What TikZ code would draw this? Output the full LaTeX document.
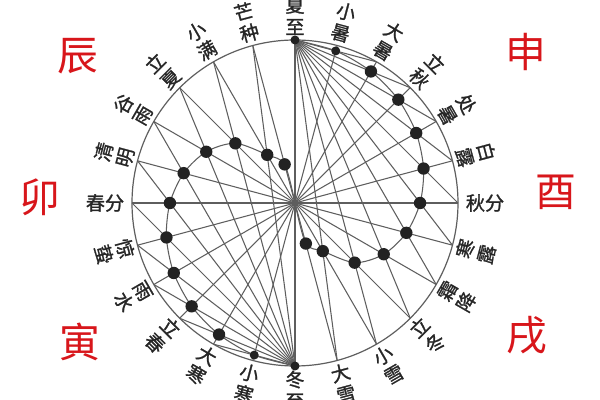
\documentclass[tikz,border=0pt]{standalone}
\usepackage{fontspec}
\newfontfamily\cjk[FakeBold=1.2]{Noto Sans CJK SC}
\newfontfamily\cjkred{Noto Sans CJK SC}
\definecolor{lngray}{HTML}{5E5E5E}
\definecolor{dotc}{HTML}{222222}
\definecolor{redc}{HTML}{D8161B}
\begin{document}
\begin{tikzpicture}[x=0.025cm,y=0.025cm,
  ln/.style={draw=lngray, line width=0.75pt},
  circline/.style={draw=lngray, line width=0.85pt},
  bigdot/.style={circle, fill=dotc, inner sep=0pt, minimum size=8.8pt},
  smalldot/.style={circle, fill=dotc, inner sep=0pt, minimum size=6.4pt},
  lbl/.style={font=\cjk\fontsize{13.6}{15.5}\selectfont, inner sep=0pt, align=center, text=black!85},
  zhi/.style={font=\cjkred\fontsize{29}{31}\selectfont, inner sep=0pt, text=redc}]
\def\R{163}
\useasboundingbox (-295,-197) rectangle (305,203);
\fill[white] (-295,-197) rectangle (305,203);
\coordinate (O) at (0,0);
\foreach \i in {0,...,23} {
  \pgfmathsetmacro\ang{90-15*\i}
  \coordinate (P\i) at (\ang:\R);
}
% dot positions
\foreach \i in {1,...,10} {
  \pgfmathsetmacro\th{90-15*\i}
  \pgfmathsetmacro\rr{\R*sin(37.5+\th/2)/sin(52.5+\th/2)}
  \pgfmathtruncatemacro\j{\i+12}
  \coordinate (D\i) at (\th:\rr);
  \coordinate (D\j) at (\th+180:\rr);
}
\coordinate (D11) at (-75:42);
\coordinate (D23) at (105:40);
% circle
\draw[circline] (O) circle (\R);
% diameters
\foreach \i in {0,...,11} {
  \pgfmathtruncatemacro\j{\i+12}
  \draw[ln] (P\i) -- (P\j);
}
% chords from summer solstice and winter solstice
\foreach \i in {2,...,11} { \draw[ln] (P0) -- (P\i); }
\foreach \i in {14,...,23} { \draw[ln] (P12) -- (P\i); }
% curves through dots
\draw[ln] plot[smooth] coordinates {(P0) (D1) (D2) (D3) (D4) (D5) (D6) (D7) (D8) (D9) (D10) (D11) (O)};
\draw[ln] plot[smooth] coordinates {(P12) (D13) (D14) (D15) (D16) (D17) (D18) (D19) (D20) (D21) (D22) (D23) (O)};
% dots
\foreach \i in {2,...,11,14,15,16,17,18,19,20,21,22,23} { \node[bigdot] (N\i) at (D\i) {}; }
\node[smalldot] (N1) at (D1) {};
\node[smalldot] (N13) at (D13) {};
\node[smalldot] (NT) at (P0) {};
\node[smalldot] (NB) at (P12) {};
% labels
\foreach \i/\a/\b in {0/夏/至,1/小/暑,2/大/暑,3/立/秋,4/处/暑,5/白/露,6/秋/分,7/寒/露,8/霜/降,9/立/冬,10/小/雪,11/大/雪,12/冬/至,13/小/寒,14/大/寒,15/立/春,16/雨/水,17/惊/蛰,18/春/分,19/清/明,20/谷/雨,21/立/夏,22/小/满,23/芒/种} {
  \pgfmathsetmacro\th{90-15*\i}
  \ifnum\i=6
    \node[lbl] (L\i) at (\th:190) {\a\b};
  \else\ifnum\i=18
    \node[lbl] (L\i) at (\th:190) {\a\b};
  \else\ifnum\i<6
    \node[lbl, rotate=\th-90] (L\i) at (\th:187) {\a\\\b};
  \else\ifnum\i>18
    \node[lbl, rotate=\th-90] (L\i) at (\th:187) {\a\\\b};
  \else
    \node[lbl, rotate=\th+90] (L\i) at (\th:187) {\a\\\b};
  \fi\fi\fi\fi
}
% earthly branches
\node[zhi] (chen) at (-217,147) {辰};
\node[zhi] (mao) at (-255,6) {卯};
\node[zhi] (yin) at (-215,-139) {寅};
\node[zhi] (shen) at (231,151) {申};
\node[zhi] (you) at (261,11) {酉};
\node[zhi] (xu) at (232,-132) {戌};
\end{tikzpicture}
\end{document}
